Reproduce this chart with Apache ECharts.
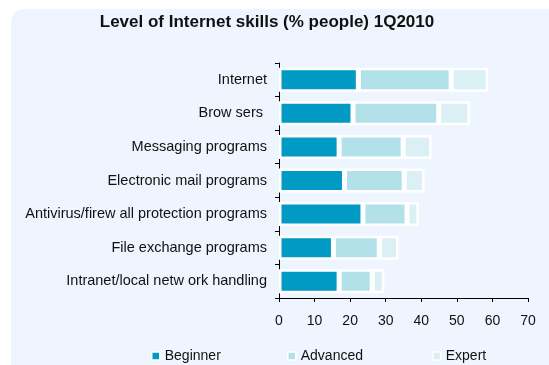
<!DOCTYPE html>
<html>
<head>
<meta charset="utf-8">
<script src="https://cdn.jsdelivr.net/npm/echarts@6/dist/echarts.min.js"></script>
<style>
  html, body { margin: 0; padding: 0; background: #ffffff; }
  #chart { width: 549px; height: 365px; }
</style>
</head>
<body>
<div id="chart"></div>
<script>
// Internet skill areas, top to bottom
const categories = [
  'Internet',
  'Brow sers ',
  'Messaging programs',
  'Electronic mail programs',
  'Antivirus/firew all protection programs',
  'File exchange programs',
  'Intranet/local netw ork handling'
];
// Share of people (%) per skill level
const beginner = [22.3, 20.8, 16.9, 18.4, 23.6, 15.3, 16.9];
const advanced = [26.1, 24.1, 18.0, 16.8, 12.4, 12.9, 9.3];
const expert   = [10.4, 8.8, 8.0, 5.7, 3.3, 5.4, 3.4];
const xTicks = [0, 10, 20, 30, 40, 50, 60, 70];

const seriesNames = ['Beginner', 'Advanced', 'Expert'];
const seriesColors = ['#009ac4', '#b3e1ea', '#daf0f4'];
const seriesData = [beginner, advanced, expert];

const font = '"Liberation Sans", Arial, sans-serif';
const chart = echarts.init(document.getElementById('chart'), null, { renderer: 'canvas' });

const legendX = [151, 287, 432];

chart.setOption({
  animation: false,
  graphic: [{
    type: 'rect',
    silent: true,
    z: -10,
    shape: { x: 11, y: 9, width: 600, height: 400, r: 13 },
    style: { fill: '#eef5fe' }
  }],
  title: {
    text: 'Level of Internet skills (% people) 1Q2010',
    left: 267,
    textAlign: 'center',
    top: 14,
    padding: 0,
    textStyle: { fontFamily: font, fontSize: 17, fontWeight: 'bold', color: '#111' }
  },
  legend: seriesNames.map((n, i) => ({
    data: [n],
    left: legendX[i],
    top: 349,
    padding: 0,
    itemWidth: 8,
    itemHeight: 8,
    icon: 'rect',
    itemStyle: { borderColor: '#ffffff', borderWidth: 1.5 },
    textStyle: { fontFamily: font, fontSize: 14, color: '#111' }
  })),
  grid: { left: 279, right: 21, top: 63, bottom: 67, containLabel: false },
  xAxis: {
    type: 'value',
    min: xTicks[0],
    max: xTicks[xTicks.length - 1],
    interval: 10,
    axisLine: { show: true, lineStyle: { color: '#000', width: 1 } },
    axisTick: { show: true, length: 4, lineStyle: { color: '#000' } },
    splitLine: { show: false },
    axisLabel: { fontFamily: font, fontSize: 14, color: '#111', margin: 16 }
  },
  yAxis: {
    type: 'category',
    data: categories,
    inverse: true,
    axisLine: { show: true, lineStyle: { color: '#000', width: 1 } },
    axisTick: { show: true, length: 4, lineStyle: { color: '#000' } },
    axisLabel: { fontFamily: font, fontSize: 14.5, color: '#111', margin: 12 }
  },
  series: seriesNames.map((n, i) => ({
    name: n,
    type: 'bar',
    stack: 'total',
    data: seriesData[i],
    barWidth: 24,
    itemStyle: { color: seriesColors[i], borderColor: '#ffffff', borderWidth: 2.5 }
  }))
});
</script>
</body>
</html>
